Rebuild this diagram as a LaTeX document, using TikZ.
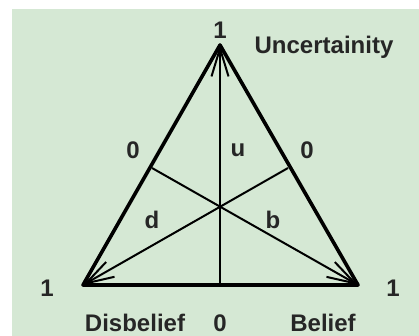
\documentclass[tikz,border=0pt]{standalone}
\usepackage{fontspec}
\setmainfont{Liberation Sans}
\usetikzlibrary{arrows.meta}
\definecolor{bgc}{HTML}{D5E8D4}
\tikzset{
  lbl/.style={font=\bfseries\fontsize{24}{28}\selectfont, text=black!85, inner sep=0pt},
  tri/.style={line width=3.6pt, line join=round, line cap=round},
  inner/.style={line width=2pt},
  arr/.style={inner, -{Straight Barb[length=28pt,width=17pt,line width=2pt]}}
}
\begin{document}
\begin{tikzpicture}[x=1pt,y=-1pt]
\useasboundingbox (0,0) rectangle (419,336);
\fill[bgc] (12,9) rectangle (419,336);
\coordinate (T) at (220,45);
\coordinate (L) at (83,285);
\coordinate (R) at (358,285);
\coordinate (M) at (220,285);
\coordinate (C) at (220,205);
\coordinate (LF) at (152,168);
\coordinate (RF) at (288,168);
\draw[arr] (M) -- (T);
\draw[arr] (LF) -- (R);
\draw[arr] (RF) -- (L);
\draw[tri] (T) -- (L) -- (R) -- cycle;
\node[lbl] (n1t) at (220,30) {1};
\node[lbl] (unc) at (324,47) {Uncertainity};
\node[lbl] (z1) at (133,150) {0};
\node[lbl] (z2) at (307,150) {0};
\node[lbl] (u) at (238,150) {u};
\node[lbl] (d) at (152,220) {d};
\node[lbl] (b) at (273,220) {b};
\node[lbl] (n1l) at (47,288) {1};
\node[lbl] (n1r) at (393,288) {1};
\node[lbl] (dis) at (135,323) {Disbelief};
\node[lbl] (z3) at (220,323) {0};
\node[lbl] (bel) at (323,323) {Belief};
\end{tikzpicture}
\end{document}
